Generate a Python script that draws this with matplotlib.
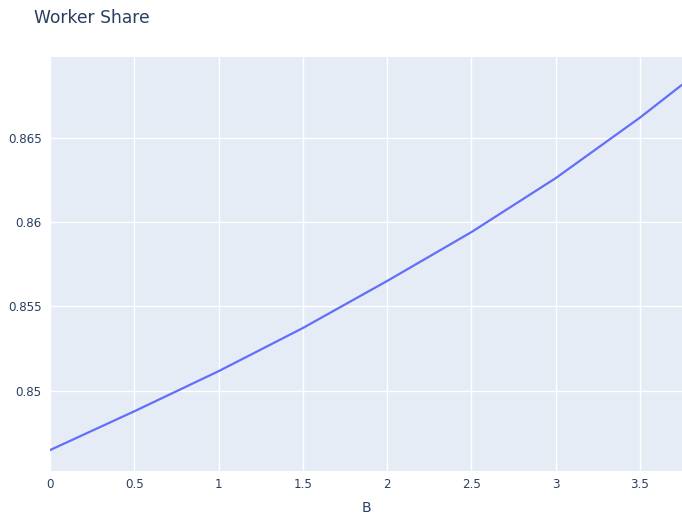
import matplotlib.pyplot as plt

B = [0, 0.5, 1.0, 1.5, 2.0, 2.5, 3.0, 3.5, 3.75]
worker_share = [0.84647, 0.84877, 0.85115, 0.85371, 0.8565, 0.8594, 0.8626, 0.86619, 0.86814]

x_ticks = [0, 0.5, 1, 1.5, 2, 2.5, 3, 3.5]
x_labels = ['0', '0.5', '1', '1.5', '2', '2.5', '3', '3.5']
y_ticks = [0.85, 0.855, 0.86, 0.865]
y_labels = ['0.85', '0.855', '0.86', '0.865']

text_color = '#2a3f5f'

fig = plt.figure(figsize=(6.82, 5.16), dpi=100)
ax = fig.add_axes([50 / 682, 45 / 516, 632 / 682, 414 / 516])
ax.set_facecolor('#e5ecf6')

ax.plot(B, worker_share, color='#636efa', linewidth=1.6, solid_capstyle='round', zorder=3)

ax.set_xlim(B[0], B[-1])
ax.set_ylim(0.84523, 0.86979)
ax.set_xticks(x_ticks)
ax.set_xticklabels(x_labels)
ax.set_yticks(y_ticks)
ax.set_yticklabels(y_labels)
ax.grid(True, color='white', linewidth=1)
ax.set_axisbelow(True)
for s in ax.spines.values():
    s.set_visible(False)
ax.tick_params(length=0, colors=text_color, labelsize=8.6)
ax.tick_params(axis='x', pad=5)
ax.tick_params(axis='y', pad=6)

ax.set_xlabel('B', color=text_color, fontsize=10, labelpad=7)
fig.text(34 / 682, 1 - 18 / 516, 'Worker Share', color=text_color, fontsize=12.3,
         ha='left', va='center')

fig.savefig('out.png', dpi=100)
